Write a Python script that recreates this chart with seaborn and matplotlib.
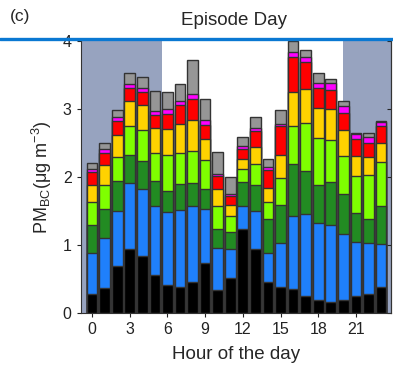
import numpy as np
import pandas as pd
import matplotlib
matplotlib.use("Agg")
import matplotlib.pyplot as plt
import seaborn as sns

hours = list(range(24))
components = ["black", "blue", "darkgreen", "lightgreen", "yellow", "red", "magenta", "gray"]
colors = ["#000000", "#1f80fb", "#228b22", "#7fff00", "#ffd200", "#ff0000", "#ff00ff", "#969696"]

black = [0.29, 0.37, 0.70, 0.95, 0.84, 0.56, 0.42, 0.39, 0.46, 0.74, 0.34, 0.52,
         1.23, 0.95, 0.46, 0.38, 0.36, 0.25, 0.20, 0.17, 0.19, 0.26, 0.28, 0.39]
blue = [0.59, 0.74, 0.80, 0.96, 0.99, 1.02, 1.06, 1.12, 1.11, 0.79, 0.62, 0.42,
        0.34, 0.55, 0.42, 0.65, 1.06, 1.21, 1.12, 1.13, 0.98, 0.79, 0.75, 0.62]
darkgreen = [0.41, 0.42, 0.44, 0.41, 0.40, 0.36, 0.31, 0.38, 0.34, 0.29, 0.28, 0.25,
             0.35, 0.38, 0.50, 0.56, 0.77, 0.62, 0.56, 0.62, 0.58, 0.42, 0.35, 0.57]
lightgreen = [0.34, 0.35, 0.35, 0.43, 0.46, 0.41, 0.53, 0.46, 0.47, 0.43, 0.34, 0.23,
              0.20, 0.31, 0.25, 0.39, 0.55, 0.71, 0.69, 0.62, 0.55, 0.55, 0.65, 0.64]
yellow = [0.25, 0.29, 0.32, 0.36, 0.36, 0.37, 0.39, 0.42, 0.45, 0.31, 0.24, 0.17,
          0.15, 0.25, 0.21, 0.34, 0.51, 0.50, 0.44, 0.45, 0.39, 0.29, 0.26, 0.28]
red = [0.19, 0.18, 0.21, 0.19, 0.20, 0.19, 0.22, 0.28, 0.31, 0.20, 0.19, 0.13,
       0.14, 0.23, 0.26, 0.43, 0.51, 0.40, 0.30, 0.29, 0.25, 0.25, 0.21, 0.25]
magenta = [0.05, 0.06, 0.06, 0.06, 0.05, 0.06, 0.06, 0.07, 0.08, 0.08, 0.04, 0.03,
           0.04, 0.05, 0.05, 0.03, 0.07, 0.07, 0.07, 0.10, 0.10, 0.07, 0.09, 0.06]
gray = [0.08, 0.09, 0.10, 0.16, 0.17, 0.29, 0.25, 0.25, 0.49, 0.31, 0.32, 0.25,
        0.14, 0.16, 0.11, 0.20, 0.16, 0.10, 0.14, 0.05, 0.08, 0.02, 0.05, 0.01]

xtick_vals = [0, 3, 6, 9, 12, 15, 18, 21]
ytick_vals = [0, 1, 2, 3, 4]

sns.set_style("ticks")
plt.rcParams["font.family"] = ["Liberation Sans", "DejaVu Sans"]
plt.rcParams["mathtext.fontset"] = "custom"
plt.rcParams["mathtext.rm"] = "Liberation Sans"
plt.rcParams["mathtext.it"] = "Liberation Sans:italic"

series = [black, blue, darkgreen, lightgreen, yellow, red, magenta, gray]
cum = np.cumsum(np.array(series), axis=0)
df = pd.DataFrame({"hour": hours})
for name, c in zip(components, cum):
    df[name] = c

fig = plt.figure(figsize=(3.93, 3.69), dpi=100)
ax = fig.add_axes([0.205, 0.151, 0.790, 0.739])

xl = (-0.92, 23.8)
ax.axvspan(xl[0], 5.55, color="#97a3bf", zorder=0, lw=0)
ax.axvspan(19.95, xl[1], color="#97a3bf", zorder=0, lw=0)

for name, col in reversed(list(zip(components, colors))):
    sns.barplot(data=df, x="hour", y=name, native_scale=True, color=col,
                width=0.85, edgecolor="#333333", linewidth=1.0, ax=ax,
                saturation=1, zorder=2)

ax.set_xlim(*xl)
ax.set_ylim(0, 4)
ax.set_xticks(xtick_vals)
ax.set_xticklabels([str(v) for v in xtick_vals])
ax.set_yticks(ytick_vals)
ax.set_yticklabels([str(v) for v in ytick_vals])
ax.tick_params(direction="out", length=3, labelsize=11.5, colors="#222222")
ax.spines["top"].set_visible(False)
ax.spines["right"].set_visible(True)
for s in ["left", "bottom", "right"]:
    ax.spines[s].set_color("#333333")
    ax.spines[s].set_linewidth(0.8)
sec = ax.secondary_yaxis("right")
sec.set_yticks(ytick_vals)
sec.tick_params(direction="in", length=3, labelright=False)
sec.spines["right"].set_color("#333333")

ax.set_xlabel("Hour of the day", fontsize=13.5, labelpad=6)
ax.set_ylabel(r"PM$_{\mathrm{BC}}$(μg m$^{-3}$)", fontsize=13, labelpad=6)

fig.text(0.595, 0.945, "Episode Day", ha="center", va="center", fontsize=13.5)
fig.text(0.025, 0.955, "(c)", ha="left", va="center", fontsize=12.5)
fig.add_artist(plt.Line2D([0, 1], [0.894, 0.894], transform=fig.transFigure,
                          color="#0a78d2", lw=2.4))

fig.savefig("out.png", dpi=100)
